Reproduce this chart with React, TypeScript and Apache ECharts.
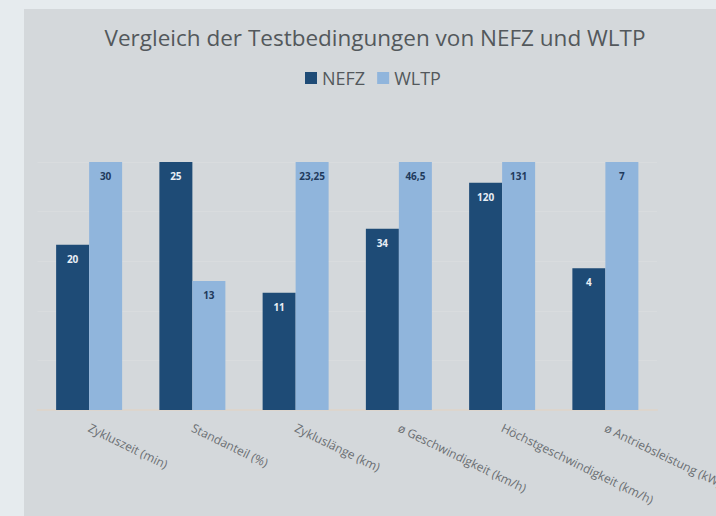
import React, { useEffect, useRef } from "react";
import * as echarts from "echarts";

const categories = [
  "Zykluszeit (min)",
  "Standanteil (%)",
  "Zykluslänge (km)",
  "ø Geschwindigkeit (km/h)",
  "Höchstgeschwindigkeit (km/h)",
  "ø Antriebsleistung (kW)",
];
const nefzValues = [20, 25, 11, 34, 120, 4];
const wltpValues = [30, 13, 23.25, 46.5, 131, 7];

const fmt = (v: number) => String(v).replace(".", ",");

export default function App() {
  const ref = useRef<HTMLDivElement>(null);
  useEffect(() => {
    if (!ref.current) return;
    const chart = echarts.init(ref.current, null, { renderer: "svg" });
    const maxes = categories.map((_, i) => Math.max(nefzValues[i], wltpValues[i]));
    const mk = (vals: number[]) =>
      vals.map((v, i) => ({ value: v / maxes[i], raw: v }));
    chart.setOption({
      animation: false,
      backgroundColor: "#e6ebee",
      graphic: [
        {
          type: "rect",
          z: -10,
          silent: true,
          shape: { x: 24, y: 9, width: 700, height: 520 },
          style: { fill: "#d4d8db" },
        },
      ],
      title: {
        text: "Vergleich der Testbedingungen von NEFZ und WLTP",
        left: 370,
        textAlign: "center",
        top: 21,
        textStyle: {
          fontFamily: "Open Sans",
          fontSize: 22.5,
          fontWeight: "normal",
          color: "#53585c",
        },
      },
      legend: {
        data: ["NEFZ", "WLTP"],
        top: 64,
        left: 300,
        itemWidth: 12,
        itemHeight: 12,
        itemGap: 12,
        icon: "rect",
        textStyle: { fontFamily: "Open Sans", fontSize: 18, color: "#53585c" },
      },
      grid: {
        left: 37.5,
        right: 59,
        top: 162,
        bottom: 106,
        outerBoundsMode: "none",
        containLabel: false,
      },
      xAxis: {
        type: "category",
        data: categories,
        axisTick: { show: false },
        axisLine: { lineStyle: { color: "#dcd5cd", width: 2 } },
        axisLabel: {
          rotate: -26,
          margin: 17,
          fontSize: 12,
          fontFamily: "Open Sans",
          color: "#6a6e72",
          interval: 0,
        },
      },
      yAxis: {
        type: "value",
        min: 0,
        max: 1,
        interval: 0.2,
        axisLabel: { show: false },
        axisLine: { show: false },
        axisTick: { show: false },
        splitLine: { lineStyle: { color: "#d9dcde", width: 1 } },
      },
      series: [
        {
          name: "NEFZ",
          type: "bar",
          data: mk(nefzValues),
          barWidth: 33,
          barGap: "0%",
          itemStyle: { color: "#1e4b76" },
          label: {
            show: true,
            position: "insideTop",
            distance: 9,
            fontSize: 10,
            fontWeight: "bold",
            fontFamily: "Open Sans",
            color: "#e8eef5",
            formatter: (p: any) => fmt(p.data.raw),
          },
        },
        {
          name: "WLTP",
          type: "bar",
          data: mk(wltpValues),
          barWidth: 33,
          itemStyle: { color: "#90b5dc" },
          label: {
            show: true,
            position: "insideTop",
            distance: 9,
            fontSize: 10,
            fontWeight: "bold",
            fontFamily: "Open Sans",
            color: "#1f3a5c",
            formatter: (p: any) => fmt(p.data.raw),
          },
        },
      ],
    });
    return () => chart.dispose();
  }, []);
  return (
    <div
      ref={ref}
      style={{ position: "fixed", left: 0, top: 0, width: 716, height: 516 }}
    />
  );
}
